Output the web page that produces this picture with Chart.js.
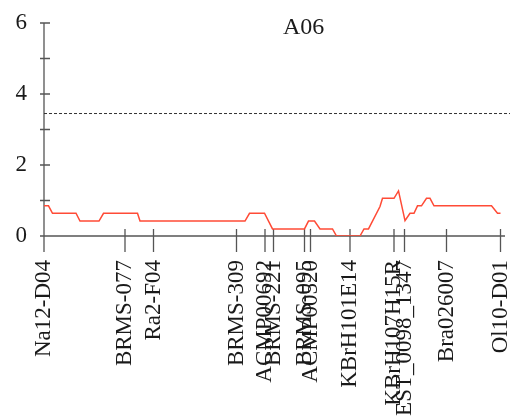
<!DOCTYPE html>
<html>
<head>
<meta charset="utf-8">
<script src="https://cdn.jsdelivr.net/npm/chart.js@4/dist/chart.umd.min.js"></script>
<style>
  html, body { margin: 0; padding: 0; background: #fff; }
  canvas { display: block; }
</style>
</head>
<body>
<canvas id="lod" width="517" height="416"></canvas>
<script>
// Linkage group and its markers (position in cM)
const groupName = 'A06';
const markerNames = ['Na12-D04', 'BRMS-077', 'Ra2-F04', 'BRMS-309', 'ACMP00692', 'BRMS-221',
  'BRMS-095', 'ACMP00520', 'KBrH101E14', 'KBrH107H15R', 'EST_0098_1347', 'Bra026007', 'Ol10-D01'];
const markerPos = [0, 16.2, 21.9, 38.5, 44.2, 45.9, 52.1, 53.3, 61.2, 70.0, 72.1, 80.5, 91.3];

// LOD profile along the group
const lodPos = [0, 0.9, 1.7, 6.4, 7.2, 11.0, 11.9, 18.7, 19.2, 40.2, 41.1, 44.1, 45.7, 52.1, 52.9,
  54.1, 55.2, 57.7, 58.5, 63.2, 64.0, 64.9, 67.2, 67.7, 70.0, 70.9, 72.2, 73.2, 74.0, 74.7, 75.5,
  76.5, 77.2, 78.0, 89.5, 90.7, 91.3];
const lodValues = [0.85, 0.85, 0.64, 0.64, 0.42, 0.42, 0.64, 0.64, 0.42, 0.42, 0.64, 0.64, 0.2, 0.2, 0.42,
  0.42, 0.2, 0.2, 0, 0, 0.2, 0.2, 0.83, 1.06, 1.06, 1.27, 0.43, 0.64, 0.64, 0.85, 0.85,
  1.06, 1.06, 0.85, 0.85, 0.64, 0.64];

// Significance threshold
const thresholdPos = [0, 93.2];
const thresholdValues = [3.45, 3.45];

// Y axis
const yMin = 0, yMax = 6, yStep = 1;
const xMax = 92.2;

const serif = '"Liberation Serif", "Times New Roman", serif';
const textColor = '#1a1a1a';
const axisColor = '#555';

// Axis lines with tick marks that cross the line
const crossAxes = {
  id: 'crossAxes',
  beforeDatasetsDraw(chart) {
    const { ctx, scales: { x, y } } = chart;
    const x0 = x.getPixelForValue(0);
    const y0 = y.getPixelForValue(yMin);
    ctx.save();
    ctx.strokeStyle = axisColor;
    ctx.lineWidth = 1.3;
    ctx.beginPath();
    ctx.moveTo(x0, y.getPixelForValue(yMax));
    ctx.lineTo(x0, y0);
    ctx.moveTo(x0, y0);
    ctx.lineTo(x.getPixelForValue(xMax), y0);
    y.ticks.forEach(t => {
      const p = y.getPixelForValue(t.value);
      ctx.moveTo(x0 - 4, p);
      ctx.lineTo(x0 + 6, p);
    });
    x.ticks.forEach(t => {
      const p = x.getPixelForValue(t.value);
      ctx.moveTo(p, y0 - 7);
      ctx.lineTo(p, y0 + 16);
    });
    ctx.stroke();
    ctx.restore();
  }
};

// Group name inside the plot
const groupLabel = {
  id: 'groupLabel',
  afterDraw(chart) {
    const { ctx, chartArea } = chart;
    ctx.save();
    ctx.font = '24px ' + serif;
    ctx.fillStyle = textColor;
    ctx.textAlign = 'center';
    ctx.textBaseline = 'middle';
    ctx.fillText(groupName, chartArea.left + 0.563 * (chartArea.right - chartArea.left), chartArea.top + 5);
    ctx.restore();
  }
};

new Chart(document.getElementById('lod'), {
  type: 'line',
  data: {
    datasets: [
      {
        label: 'LOD',
        data: lodPos.map((p, i) => ({ x: p, y: lodValues[i] })),
        borderColor: '#ff4b36',
        borderWidth: 1.5,
        pointRadius: 0,
        tension: 0
      },
      {
        label: 'Threshold',
        data: thresholdPos.map((p, i) => ({ x: p, y: thresholdValues[i] })),
        borderColor: '#333',
        borderWidth: 1,
        borderDash: [3, 2],
        pointRadius: 0,
        clip: false
      }
    ]
  },
  options: {
    responsive: false,
    animation: false,
    devicePixelRatio: 1,
    layout: { padding: { top: 23, right: 12, bottom: 0, left: 0 } },
    plugins: { legend: { display: false }, tooltip: { enabled: false }, title: { display: false } },
    scales: {
      x: {
        type: 'linear',
        min: 0,
        max: xMax,
        grid: { display: false, drawTicks: false },
        border: { display: false },
        afterBuildTicks: (s) => { s.ticks = markerPos.map(v => ({ value: v })); },
        afterFit: (s) => { s.height = 180; s.paddingLeft = 0; s.paddingRight = 0; },
        ticks: {
          autoSkip: false,
          minRotation: 90,
          maxRotation: 90,
          padding: 24,
          color: textColor,
          font: { family: serif, size: 23 },
          callback: (v, i) => markerNames[i]
        }
      },
      y: {
        type: 'linear',
        min: yMin,
        max: yMax,
        grid: { display: false, drawTicks: false },
        border: { display: false },
        afterFit: (s) => { s.width = 44; s.paddingTop = 0; s.paddingBottom = 0; },
        ticks: {
          stepSize: yStep,
          padding: 17,
          color: textColor,
          font: { family: serif, size: 23 },
          callback: (v) => (v % 2 === 0 ? String(v) : '')
        }
      }
    }
  },
  plugins: [crossAxes, groupLabel]
});
</script>
</body>
</html>
